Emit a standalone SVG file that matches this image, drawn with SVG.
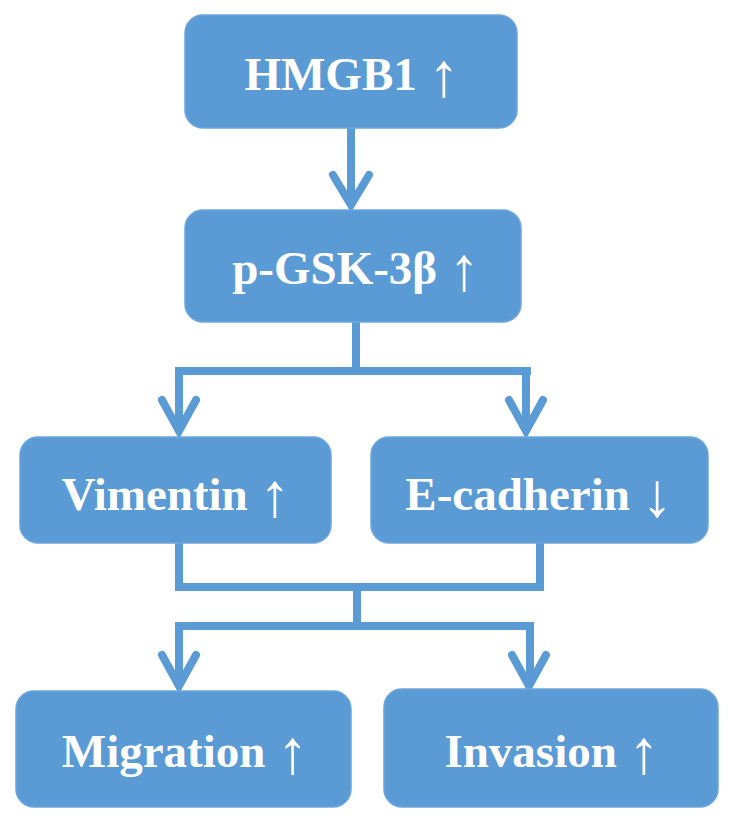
<svg xmlns="http://www.w3.org/2000/svg" width="732" height="824" viewBox="0 0 732 824">
<style>
.box{fill:#5B9BD5;stroke:#6CA6DC;stroke-width:1.5}
.lbl{font-family:"Liberation Serif","Times New Roman",serif;font-weight:bold;font-size:47px;fill:#FFFFFF;text-anchor:middle}
.ar{font-weight:normal;font-size:62px}
.ln{fill:none;stroke:#5B9BD5;stroke-width:8;stroke-linecap:butt;stroke-linejoin:miter}
.hd{fill:none;stroke:#5B9BD5;stroke-width:8;stroke-linecap:round;stroke-linejoin:miter}
</style>
<rect width="732" height="824" fill="#FFFFFF"/>
<g id="connectors">
<path class="ln" d="M351 128 V200"/>
<path class="hd" d="M333 175 L351 205 L369 175"/>
<path class="ln" d="M356 322 V371 M175 371 H531 M179 367 V428 M526 367 V428"/>
<path class="hd" d="M162 400 L179 431 L196 400"/>
<path class="hd" d="M509 400 L526 431 L543 400"/>
<path class="ln" d="M179 543 V587 M540 543 V587 M175 587 H544 M357 587 V626 M175 626 H533 M179 622 V683 M530 622 V683"/>
<path class="hd" d="M162 655 L179 686 L196 655"/>
<path class="hd" d="M512 655 L529 686 L546 655"/>
</g>
<g id="hmgb1">
<rect class="box" x="185" y="15" width="332" height="113" rx="18"/>
<text class="lbl" x="352" y="90">HMGB1 <tspan class="ar" dy="6">↑</tspan></text>
</g>
<g id="pgsk3b">
<rect class="box" x="185" y="210" width="336" height="112" rx="18"/>
<text class="lbl" x="356" y="284">p-GSK-3β <tspan class="ar" dy="6">↑</tspan></text>
</g>
<g id="vimentin">
<rect class="box" x="20" y="437" width="311" height="106" rx="18"/>
<text class="lbl" x="176" y="510">Vimentin <tspan class="ar" dy="6">↑</tspan></text>
</g>
<g id="ecadherin">
<rect class="box" x="371" y="437" width="337" height="106" rx="18"/>
<text class="lbl" x="539" y="510">E-cadherin <tspan class="ar" dy="6">↓</tspan></text>
</g>
<g id="migration">
<rect class="box" x="16" y="691" width="335" height="116" rx="18"/>
<text class="lbl" x="185" y="767">Migration <tspan class="ar" dy="6">↑</tspan></text>
</g>
<g id="invasion">
<rect class="box" x="384" y="689" width="334" height="118" rx="18"/>
<text class="lbl" x="552" y="767">Invasion <tspan class="ar" dy="6">↑</tspan></text>
</g>
</svg>
